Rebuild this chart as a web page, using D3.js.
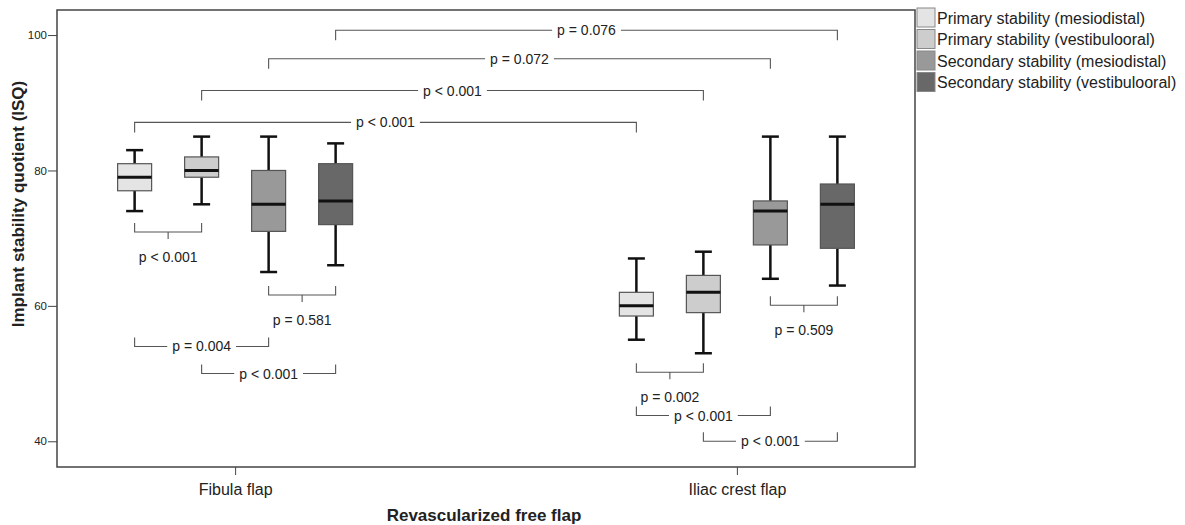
<!DOCTYPE html>
<html>
<head>
<meta charset="utf-8">
<script src="https://cdn.jsdelivr.net/npm/d3@7"></script>
<style>
  body { margin: 0; background: #fff; }
  svg text { font-family: "Liberation Sans", Arial, sans-serif; fill: #222; }
</style>
</head>
<body>
<svg id="chart" width="1185" height="525"></svg>
<script>
"use strict"

// categories
const flaps = ["Fibula flap", "Iliac crest flap"]
const measures = [
    "Primary stability (mesiodistal)",
    "Primary stability (vestibulooral)",
    "Secondary stability (mesiodistal)",
    "Secondary stability (vestibulooral)"
]
const fills = ["#e4e4e4", "#cdcdcd", "#999999", "#686868"]

// box stats per measure: [whisker low, q1, median, q3, whisker high]
const fibulaStats = [
    [74, 77, 79, 81, 83],
    [75, 79, 80, 82, 85],
    [65, 71, 75, 80, 85],
    [66, 72, 75.5, 81, 84]
]
const iliacStats = [
    [55, 58.5, 60, 62, 67],
    [53, 59, 62, 64.5, 68],
    [64, 69, 74, 75.5, 85],
    [63, 68.5, 75, 78, 85]
]

const yTicks = [40, 60, 80, 100]

// comparisons: [flap, measure] -> [flap, measure], bracket level (ISQ), label, kind
const compFrom  = [[0,0],[0,1],[0,2],[0,3],[0,0],[0,2],[0,0],[0,1],[1,2],[1,0],[1,0],[1,1]]
const compTo    = [[1,0],[1,1],[1,2],[1,3],[0,1],[0,3],[0,2],[0,3],[1,3],[1,1],[1,2],[1,3]]
const compLevel = [87.1, 91.8, 96.5, 100.7, 70.9, 61.6, 54.0, 50.0, 60.1, 50.2, 43.8, 40.0]
const compLabel = ["p < 0.001", "p < 0.001", "p = 0.072", "p = 0.076", "p < 0.001", "p = 0.581",
                   "p = 0.004", "p < 0.001", "p = 0.509", "p = 0.002", "p < 0.001", "p < 0.001"]
const compKind  = ["over", "over", "over", "over", "under", "under",
                   "inline", "inline", "under", "under", "inline", "inline"]

const stats = [fibulaStats, iliacStats]

const plot = {left: 57, right: 915, top: 10, bottom: 467}
const svg = d3.select("#chart")

const x = d3.scalePoint().domain(flaps).range([plot.left, plot.right]).padding(0.355)
const inner = d3.scaleBand().domain(measures).range([-134, 134])
const y = d3.scaleLinear().domain([36.2, 103.7]).range([plot.bottom, plot.top])

const cx = (f, m) => x(flaps[f]) + inner(measures[m]) + inner.bandwidth() / 2
const boxW = 34
const capW = 17

// frame
svg.append("rect")
    .attr("x", plot.left).attr("y", plot.top)
    .attr("width", plot.right - plot.left).attr("height", plot.bottom - plot.top)
    .attr("fill", "none").attr("stroke", "#444").attr("stroke-width", 1.5)

// y axis
const yAxis = svg.append("g")
    .attr("transform", `translate(${plot.left},0)`)
    .call(d3.axisLeft(y).tickValues(yTicks).tickSize(9).tickPadding(1))
yAxis.select(".domain").remove()
yAxis.selectAll(".tick line").attr("stroke", "#444")
yAxis.selectAll(".tick text").style("font-size", "11.5px").style("fill", "#222")

// x axis
const xAxis = svg.append("g")
    .attr("transform", `translate(0,${plot.bottom})`)
    .call(d3.axisBottom(x).tickSize(8).tickPadding(9))
xAxis.select(".domain").remove()
xAxis.selectAll(".tick line").attr("stroke", "#444")
xAxis.selectAll(".tick text").style("font-size", "16px").style("fill", "#222")

// axis titles
svg.append("text")
    .attr("transform", "translate(24,204) rotate(-90)")
    .attr("text-anchor", "middle")
    .style("font-size", "17px").style("font-weight", "bold")
    .text("Implant stability quotient (ISQ)")

svg.append("text")
    .attr("x", 484).attr("y", 521)
    .attr("text-anchor", "middle")
    .style("font-size", "17px").style("font-weight", "bold")
    .text("Revascularized free flap")

// boxes
stats.forEach((flapStats, f) => {
    flapStats.forEach((s, m) => {
        const g = svg.append("g")
        const c = cx(f, m)
        // whiskers
        g.append("line").attr("x1", c).attr("x2", c).attr("y1", y(s[4])).attr("y2", y(s[3]))
        g.append("line").attr("x1", c).attr("x2", c).attr("y1", y(s[1])).attr("y2", y(s[0]))
        g.append("line").attr("x1", c - capW / 2).attr("x2", c + capW / 2).attr("y1", y(s[4])).attr("y2", y(s[4]))
        g.append("line").attr("x1", c - capW / 2).attr("x2", c + capW / 2).attr("y1", y(s[0])).attr("y2", y(s[0]))
        g.selectAll("line").attr("stroke", "#111").attr("stroke-width", 2.5)
        g.append("rect")
            .attr("x", c - boxW / 2).attr("y", y(s[3]))
            .attr("width", boxW).attr("height", y(s[1]) - y(s[3]))
            .attr("fill", fills[m]).attr("stroke", "#555").attr("stroke-width", 1.2)
        g.append("line")
            .attr("x1", c - boxW / 2).attr("x2", c + boxW / 2)
            .attr("y1", y(s[2])).attr("y2", y(s[2]))
            .attr("stroke", "#111").attr("stroke-width", 3)
    })
})

// comparison brackets
const br = svg.append("g").attr("fill", "none").attr("stroke", "#555").attr("stroke-width", 1.1)
compLevel.forEach((lvl, i) => {
    const x1 = cx(compFrom[i][0], compFrom[i][1])
    const x2 = cx(compTo[i][0], compTo[i][1])
    const yy = y(lvl)
    const mid = (x1 + x2) / 2
    const kind = compKind[i]
    const endDy = kind === "over" ? 10 : -9

    if (kind === "under") {
        br.append("path").attr("d", `M${x1},${yy + endDy}V${yy}H${x2}V${yy + endDy}M${mid},${yy}v7`)
        svg.append("text")
            .attr("x", mid).attr("y", yy + 30)
            .attr("text-anchor", "middle")
            .style("font-size", "14px")
            .text(compLabel[i])
    } else {
        const t = svg.append("text")
            .attr("x", mid).attr("y", yy + 5)
            .attr("text-anchor", "middle")
            .style("font-size", "14px")
            .text(compLabel[i])
        const half = t.node().getComputedTextLength() / 2 + 5
        br.append("path").attr("d", `M${x1},${yy + endDy}V${yy}H${mid - half}M${mid + half},${yy}H${x2}V${yy + endDy}`)
    }
})

// legend
const legend = svg.append("g").attr("transform", "translate(917,8)")
measures.forEach((m, i) => {
    const row = legend.append("g").attr("transform", `translate(0,${i * 21.5})`)
    row.append("rect")
        .attr("width", 18).attr("height", 19)
        .attr("fill", fills[i]).attr("stroke", "#888").attr("stroke-width", 1)
    row.append("text")
        .attr("x", 20).attr("y", 15.5)
        .style("font-size", "16px")
        .text(m)
})
</script>
</body>
</html>
